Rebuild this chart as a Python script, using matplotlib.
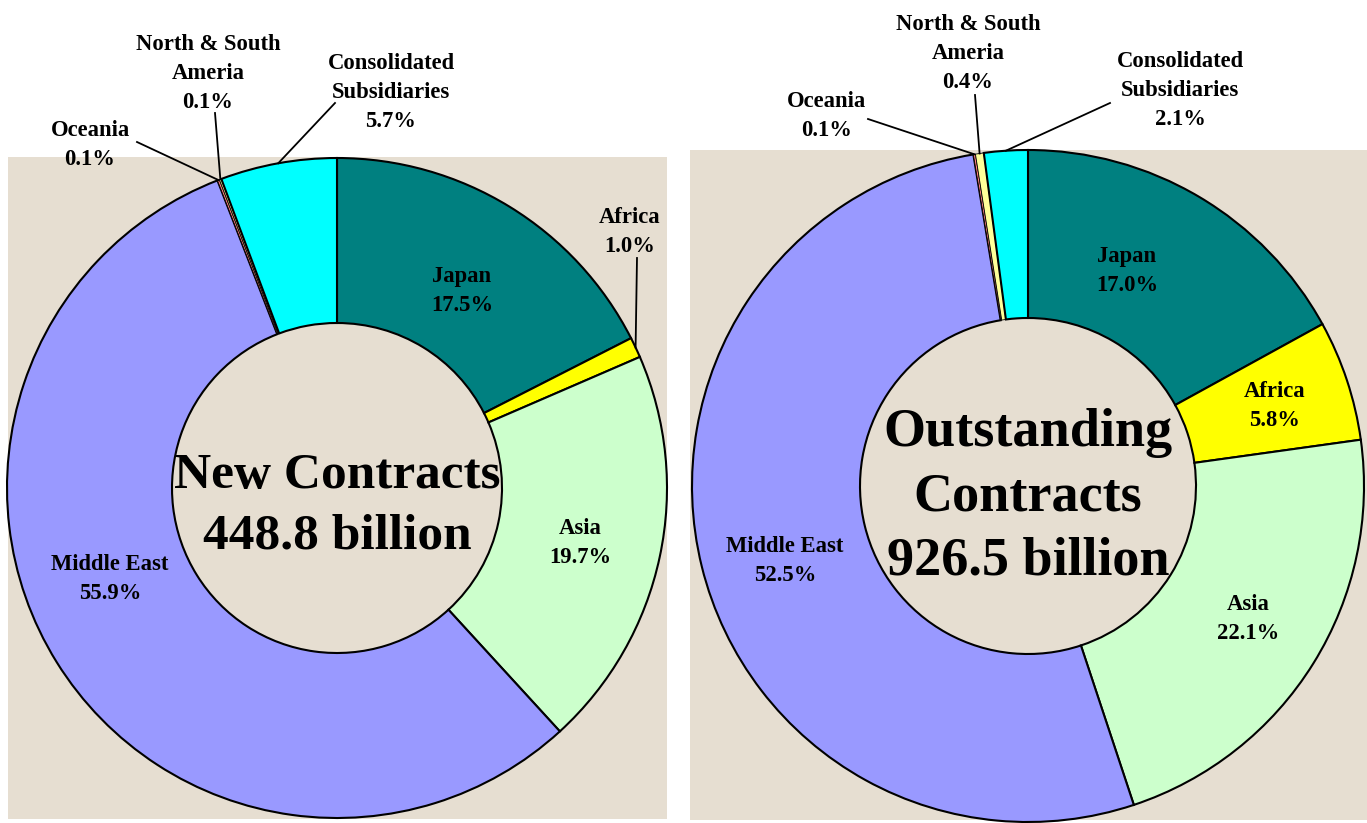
import numpy as np
import matplotlib.pyplot as plt
from matplotlib.patches import Rectangle

plt.rcParams['font.family'] = ['Liberation Serif', 'DejaVu Serif']
plt.rcParams['font.weight'] = 'bold'

# data
regions = ["Japan", "Africa", "Asia", "Middle East", "Oceania",
           "North & South\nAmeria", "Consolidated\nSubsidiaries"]
new_share = [17.5, 1.0, 19.7, 55.9, 0.1, 0.1, 5.7]
outstanding_share = [17.0, 5.8, 22.1, 52.5, 0.1, 0.4, 2.1]
titles = ["New Contracts\n448.8 billion", "Outstanding\nContracts\n926.5 billion"]

colors = ["#008080", "#FFFF00", "#CCFFCC", "#9999FF", "#FF8080", "#FFFF99", "#00FFFF"]
bg_color = "#E6DED1"

W, H = 1367, 823
fig = plt.figure(figsize=(W / 100, H / 100), dpi=100)
ax = fig.add_axes([0, 0, 1, 1])

# layout in pixel coords (image space, y down)
charts = [
    dict(values=new_share, title=titles[0], center=(337, 488), radius=330,
         bg=(8, 157, 659, 662), title_size=37, title_dy=18, title_ls=1.42,
         label_pos={0: (462, 291), 2: (580, 543), 3: (110, 579)},
         outside={1: ((630, 232), (637, 258)),
                  4: ((90, 145), (137, 142)),
                  5: ((208, 73), (215, 113)),
                  6: ((391, 92), (335, 103))}),
    dict(values=outstanding_share, title=titles[1], center=(1028, 486), radius=336,
         bg=(690, 150, 677, 670), title_size=39, title_dy=11, title_ls=1.38,
         label_pos={0: (1127, 271), 1: (1275, 406), 2: (1248, 619), 3: (785, 561)},
         outside={4: ((827, 116), (868, 119)),
                  5: ((968, 53), (975, 95)),
                  6: ((1180, 90), (1110, 103))}),
]

lab_size = 16.3

for ch in charts:
    x0, y0, w, h = ch["bg"]
    ax.add_patch(Rectangle((x0, y0), w, h, facecolor=bg_color, edgecolor="none", zorder=0))
    vals = ch["values"]
    cx, cy = ch["center"]
    R = ch["radius"]
    wedges, _ = ax.pie(vals, colors=colors, startangle=-90, counterclock=True,
                       center=(cx, cy), radius=R, frame=True,
                       wedgeprops=dict(width=R * 0.5, edgecolor="black", linewidth=1.5))
    # thin outlines so the tiny slices keep their colour
    for wd, v in zip(wedges, vals):
        if v < 0.5:
            wd.set_linewidth(0.6)
    ax.text(cx, cy + ch["title_dy"], ch["title"], ha="center", va="center",
            fontsize=ch["title_size"], fontweight="bold", linespacing=ch["title_ls"])

    total = sum(vals)
    cum = np.cumsum([0] + list(vals))
    for i, name in enumerate(regions):
        pct = "%.1f%%" % vals[i]
        if i in ch["label_pos"]:
            tx, ty = ch["label_pos"][i]
        else:
            (tx, ty), (lx, ly) = ch["outside"][i]
            mid = -90 + (cum[i] + vals[i] / 2) / total * 360
            ex = cx + R * np.cos(np.radians(mid))
            ey = cy + R * np.sin(np.radians(mid))
            ax.plot([lx, ex], [ly, ey], color="black", linewidth=1.3, zorder=5)
        ax.text(tx, ty, name + "\n" + pct, ha="center", va="center",
                fontsize=lab_size, fontweight="bold", linespacing=1.5)

ax.set_xlim(0, W)
ax.set_ylim(H, 0)
ax.set_aspect("auto")
ax.axis("off")

fig.savefig("out.png", dpi=100, facecolor="white")
